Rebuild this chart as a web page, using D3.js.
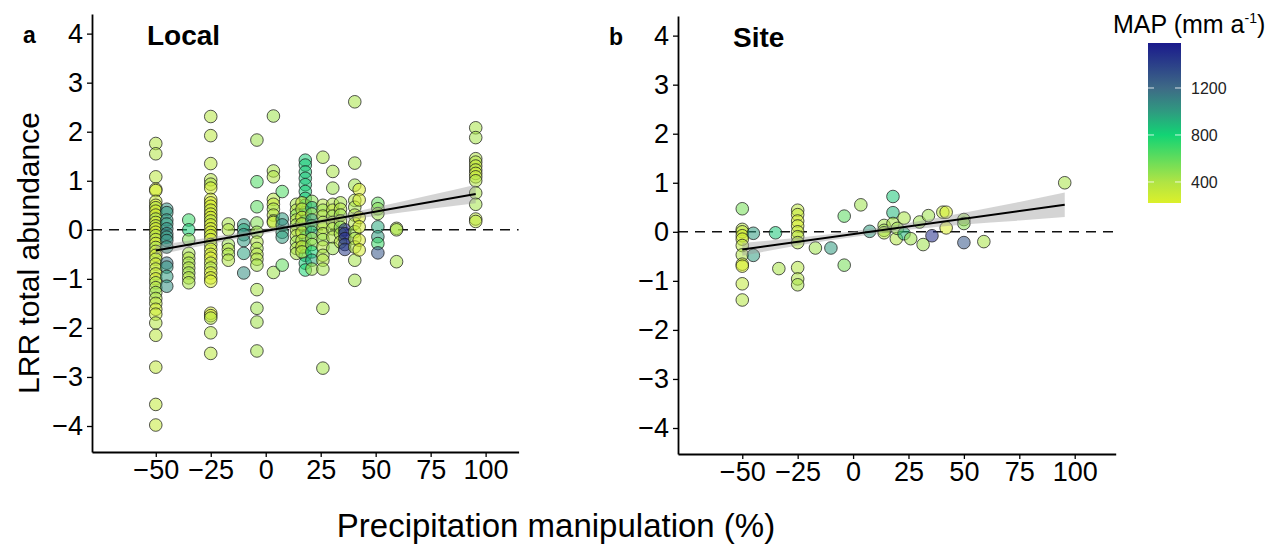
<!DOCTYPE html>
<html>
<head>
<meta charset="utf-8">
<script src="https://cdn.jsdelivr.net/npm/d3@7"></script>
<style>
  body { margin: 0; background: #fff; }
  svg text { font-family: "Liberation Sans", Arial, sans-serif; }
</style>
</head>
<body>
<div id="chart"></div>
<script>
// ---- panel a: local data (precip manipulation %, LRR, MAP mm) ----
const localPrecip = [
  -50,-50,-50,-50,-50,-50,-50,-50,-50,-50,-50,-50,-50,-50,-50,-50,-50,-50,-50,-50,-50,-50,-50,-50,-50,-50,-50,-50,-50,-50,-50,-50,-50,-50,-50,-50,-50,-50,
  -45,-45,-45,-45,-45,-45,-45,-45,-45,-45,-45,-45,-45,
  -35,-35,-35,-35,-35,-35,-35,-35,-35,-35,
  -25,-25,-25,-25,-25,-25,-25,-25,-25,-25,-25,-25,-25,-25,-25,-25,-25,-25,-25,-25,-25,-25,-25,-25,-25,-25,-25,-25,-25,-25,-25,-25,
  -17,-17,-17,-17,-17,-17,
  -10,-10,-10,-10,-10,-10,
  -4,-4,-4,-4,-4,-4,-4,-4,-4,-4,-4,-4,-4,-4,
  3.5,3.5,3.5,3.5,3.5,3.5,3.5,3.5,3.5,3.5,
  7.5,7.5,7.5,7.5,7.5,7.5,
  14,14,14,14,14,14,14,14,14,14,
  18,18,18,18,18,18,18,18,18,18,18,18,18,18,18,18,
  16.5,16.5,16.5,16.5,16.5,16.5,16.5,16.5,
  21,21,21,21,21,21,21,21,21,21,21,
  26,26,26,26,26,26,26,26,26,26,26,26,26,26,
  30.5,30.5,30.5,30.5,30.5,30.5,30.5,30.5,30.5,
  34,34,34,34,34,34,34,
  36,36,36,36,36,
  40.5,40.5,40.5,40.5,40.5,40.5,40.5,40.5,40.5,40.5,40.5,40.5,
  42.5,42.5,42.5,42.5,42.5,42.5,
  51,51,51,51,51,51,51,
  59.5,59.5,59.5,
  95.5,95.5,95.5,95.5,95.5,95.5,95.5,95.5,95.5,95.5,95.5,95.5,95.5
];
const localLRR = [
  1.76,1.55,1.08,0.83,0.80,0.58,0.50,0.45,0.38,0.30,0.22,0.15,0.08,0.02,-0.05,-0.12,-0.20,-0.28,-0.36,-0.44,-0.52,-0.60,-0.70,-0.80,-0.90,-1.00,-1.08,-1.18,-1.28,-1.40,-1.50,-1.62,-1.72,-1.90,-2.15,-2.80,-3.56,-3.98,
  0.42,0.35,0.20,0.12,0.02,-0.08,-0.15,-0.22,-0.35,-0.68,-0.76,-0.95,-1.15,
  0.20,0.00,-0.20,-0.48,-0.58,-0.68,-0.78,-0.88,-0.98,-1.08,
  2.31,1.92,1.35,1.02,0.93,0.85,0.62,0.55,0.48,0.40,0.32,0.25,0.18,0.10,0.02,-0.05,-0.12,-0.20,-0.30,-0.40,-0.50,-0.58,-0.68,-0.78,-0.88,-0.98,-1.05,-1.70,-1.75,-1.80,-2.10,-2.52,
  0.12,0.00,-0.30,-0.40,-0.50,-0.62,
  0.10,0.00,-0.10,-0.22,-0.48,-0.88,
  1.83,0.98,0.47,0.14,-0.05,-0.25,-0.38,-0.50,-0.60,-0.72,-1.22,-1.60,-1.88,-2.47,
  2.32,1.20,1.08,0.62,0.52,0.42,0.30,0.18,0.15,-0.87,
  0.78,0.22,0.10,-0.05,-0.15,-0.72,
  0.52,0.40,0.30,0.20,0.10,0.00,-0.12,-0.25,-0.38,-0.48,
  1.42,1.32,1.18,1.05,0.92,0.78,0.64,0.50,0.35,0.18,0.02,-0.15,-0.35,-0.52,-0.68,-0.82,
  0.55,0.42,0.25,0.12,-0.05,-0.22,-0.35,-0.45,
  0.58,0.45,0.32,0.20,0.08,-0.05,-0.18,-0.30,-0.45,-0.62,-0.80,
  1.48,0.50,0.40,0.28,0.15,0.05,-0.08,-0.20,-0.35,-0.52,-0.62,-0.80,-1.60,-2.82,
  1.19,0.85,0.52,0.40,0.28,0.15,0.02,-0.15,-0.38,
  0.55,0.42,0.30,0.18,0.05,-0.08,-0.25,
  0.00,-0.08,-0.18,-0.30,-0.40,
  2.61,1.36,0.91,0.60,0.46,0.30,0.13,-0.04,-0.18,-0.35,-0.62,-1.03,
  0.82,0.61,0.25,0.06,-0.21,-0.41,
  0.54,0.43,0.33,0.06,-0.14,-0.28,-0.47,
  0.03,0.00,-0.65,
  2.08,1.88,1.45,1.38,1.30,1.22,1.15,1.08,1.00,0.75,0.52,0.22,0.17
];
const localMAP = [
  380,400,360,240,260,300,240,380,250,260,420,240,330,260,250,400,320,250,420,300,240,380,260,350,300,240,420,380,450,400,350,260,300,380,360,340,330,320,
  1050,1000,1020,980,1050,1080,1000,1050,1020,1150,1020,1000,1050,
  700,820,520,420,380,430,400,450,380,420,
  380,360,350,380,400,260,240,230,250,300,240,260,350,240,250,260,300,240,380,250,260,230,350,380,240,260,250,240,230,400,380,360,
  420,400,450,380,420,400,
  1000,950,1050,1000,980,1050,
  450,650,620,520,450,400,420,380,400,430,420,450,440,430,
  450,420,400,380,300,420,350,400,300,450,
  650,1000,1050,950,1000,600,
  420,380,500,350,450,400,380,450,400,420,
  820,850,830,860,840,820,850,800,830,860,820,850,840,800,830,780,
  300,350,280,400,320,350,300,380,
  500,900,450,1000,600,950,450,500,800,950,450,
  420,380,450,400,420,380,400,450,380,420,400,430,420,430,
  420,450,400,350,450,380,420,400,450,
  420,380,450,400,500,420,380,
  1520,1500,1480,1450,1420,
  420,430,450,400,420,380,400,450,420,400,430,440,
  230,240,230,250,230,240,
  600,500,450,950,1000,700,1300,
  400,420,420,
  420,430,400,380,300,350,280,320,400,420,430,350,330
];

// ---- panel b: site data ----
const sitePrecip = [
  -50,-50,-50,-50,-50,-50,-50,-50,-50,-50,-50,
  -45,-45,-35,-33.5,
  -25,-25,-25,-25,-25,-25,-25,-25,-25,-25,
  -17,-10,-4,-4,3.5,7.5,
  14,14,14,18,18,18,19.5,20,23,23,26,30,31.6,34,35.6,
  40.5,42,42,50,50,50,59,95.5
];
const siteLRR = [
  0.47,0.05,0.00,-0.08,-0.15,-0.28,-0.47,-0.66,-0.70,-1.06,-1.39,
  -0.03,-0.48,-0.02,-0.75,
  0.44,0.35,0.22,0.12,0.00,-0.10,-0.22,-0.73,-0.96,-1.08,
  -0.33,-0.33,0.32,-0.68,0.55,0.01,
  0.13,0.03,-0.02,0.72,0.39,0.17,-0.14,0.07,0.28,-0.04,-0.14,0.20,-0.26,0.33,-0.08,
  0.40,0.40,0.08,0.25,0.17,-0.22,-0.20,1.00
];
const siteMAP = [
  550,380,300,250,280,350,400,260,240,330,380,
  1000,1000,850,420,
  350,300,250,260,300,350,400,380,400,420,
  450,1000,620,550,450,1000,
  420,450,380,850,900,420,400,450,420,900,450,450,450,450,1500,
  350,240,230,450,500,1300,420,420
];

// ---- fitted lines and confidence bands ----
const fitX = [-50, 95.5];
const fitLocal = [-0.42, 0.73];
const fitSite = [-0.36, 0.55];
const bandX = [-50, -25, 0, 25, 50, 75, 95.5];
const bandLocalLo = [-0.52, -0.29, -0.075, 0.12, 0.28, 0.43, 0.54];
const bandLocalHi = [-0.32, -0.15, 0.025, 0.22, 0.46, 0.71, 0.92];
const bandSiteLo = [-0.49, -0.28, -0.107, 0.04, 0.15, 0.23, 0.30];
const bandSiteHi = [-0.23, -0.12, 0.013, 0.18, 0.39, 0.61, 0.80];

// ---- scales / ticks ----
const xTicks = [-50, -25, 0, 25, 50, 75, 100];
const yTicks = [-4, -3, -2, -1, 0, 1, 2, 3, 4];
const mapTicks = [400, 800, 1200];
const mapStops = [221, 400, 800, 1000, 1200, 1583];
const mapColors = ["#dcf02a", "#b0e444", "#12d474", "#2f9a80", "#3e6a86", "#1a1a8c"];

const width = 1281, height = 547;
const svg = d3.select("#chart").append("svg")
    .attr("width", width)
    .attr("height", height);

const color = d3.scaleLinear().domain(mapStops).range(mapColors);

function drawPanel(cfg) {
    const x = d3.scaleLinear().domain([-79, cfg.xMax]).range([cfg.left, cfg.right]);
    const y = d3.scaleLinear().domain([-4.53, 4.4]).range([cfg.bottom, cfg.top]);
    const g = svg.append("g");

    // zero line
    g.append("line")
        .attr("x1", x.range()[0]).attr("x2", x.range()[1])
        .attr("y1", y(0)).attr("y2", y(0))
        .attr("stroke", "#111").attr("stroke-width", 1.6)
        .attr("stroke-dasharray", "10,7");

    // points
    g.append("g")
        .selectAll("circle")
        .data(cfg.px.map((d, i) => ({ x: d, y: cfg.py[i], m: cfg.pm[i] })))
        .join("circle")
        .attr("cx", d => x(d.x))
        .attr("cy", d => y(d.y))
        .attr("r", 6.3)
        .attr("fill", d => color(d.m))
        .attr("fill-opacity", 0.55)
        .attr("stroke", "#1e1e1e")
        .attr("stroke-opacity", 0.75)
        .attr("stroke-width", 1);

    // confidence band
    const band = d3.area()
        .x((d, i) => x(bandX[i]))
        .y0((d, i) => y(cfg.lo[i]))
        .y1((d, i) => y(cfg.hi[i]))
        .curve(d3.curveMonotoneX);
    g.append("path")
        .attr("d", band(bandX))
        .attr("fill", "#999")
        .attr("fill-opacity", 0.42);

    // fitted line
    g.append("line")
        .attr("x1", x(fitX[0])).attr("x2", x(fitX[1]))
        .attr("y1", y(cfg.fit[0])).attr("y2", y(cfg.fit[1]))
        .attr("stroke", "#000").attr("stroke-width", 2);

    // axes
    const ax = g.append("g")
        .attr("transform", `translate(0,${cfg.bottom})`)
        .call(d3.axisBottom(x).tickValues(xTicks).tickSize(5).tickSizeOuter(0).tickPadding(3));
    const ay = g.append("g")
        .attr("transform", `translate(${cfg.left},0)`)
        .call(d3.axisLeft(y).tickValues(yTicks).tickSize(5).tickSizeOuter(0).tickPadding(4));
    [ax, ay].forEach(a => {
        a.select(".domain").attr("stroke", "#000").attr("stroke-width", 1.8);
        a.selectAll(".tick line").attr("stroke", "#000").attr("stroke-width", 1.3);
        a.selectAll("text").attr("fill", "#000").style("font-size", "27px");
    });

    // panel labels
    g.append("text").attr("x", cfg.letterX).attr("y", cfg.top + 29)
        .style("font-size", "23px").style("font-weight", "bold").text(cfg.letter);
    g.append("text").attr("x", cfg.titleX).attr("y", cfg.top + 31)
        .style("font-size", "28px").style("font-weight", "bold").text(cfg.title);
}

drawPanel({
    left: 92, right: 518.6, top: 14, bottom: 452, xMax: 115,
    px: localPrecip, py: localLRR, pm: localMAP,
    fit: fitLocal, lo: bandLocalLo, hi: bandLocalHi,
    letter: "a", letterX: 23, title: "Local", titleX: 147
});
drawPanel({
    left: 678, right: 1115.7, top: 16, bottom: 454, xMax: 118.5,
    px: sitePrecip, py: siteLRR, pm: siteMAP,
    fit: fitSite, lo: bandSiteLo, hi: bandSiteHi,
    letter: "b", letterX: 609, title: "Site", titleX: 733
});

// axis titles
svg.append("text")
    .attr("transform", "translate(39,253) rotate(-90)")
    .attr("text-anchor", "middle")
    .style("font-size", "30px")
    .text("LRR total abundance");
svg.append("text")
    .attr("x", 556).attr("y", 537)
    .attr("text-anchor", "middle")
    .style("font-size", "33px")
    .text("Precipitation manipulation (%)");

// colour bar legend
const barTop = 43, barBottom = 203, barLeft = 1148, barW = 33;
const legY = d3.scaleLinear().domain([mapStops[0], mapStops[mapStops.length - 1]]).range([barBottom, barTop]);
const defs = svg.append("defs");
const grad = defs.append("linearGradient").attr("id", "mapgrad")
    .attr("x1", 0).attr("y1", 1).attr("x2", 0).attr("y2", 0);
mapStops.forEach((v, i) => {
    grad.append("stop")
        .attr("offset", (v - mapStops[0]) / (mapStops[mapStops.length - 1] - mapStops[0]))
        .attr("stop-color", mapColors[i]);
});
svg.append("rect")
    .attr("x", barLeft).attr("y", barTop)
    .attr("width", barW).attr("height", barBottom - barTop)
    .attr("fill", "url(#mapgrad)");
const legTicks = svg.append("g");
mapTicks.forEach(v => {
    legTicks.append("line").attr("x1", barLeft).attr("x2", barLeft + 6)
        .attr("y1", legY(v)).attr("y2", legY(v)).attr("stroke", "#fff").attr("stroke-opacity", 0.8);
    legTicks.append("line").attr("x1", barLeft + barW - 6).attr("x2", barLeft + barW)
        .attr("y1", legY(v)).attr("y2", legY(v)).attr("stroke", "#fff").attr("stroke-opacity", 0.8);
    legTicks.append("text").attr("x", barLeft + barW + 10).attr("y", legY(v))
        .attr("dy", "0.35em").style("font-size", "16px").attr("fill", "#222").text(v);
});
const legTitle = svg.append("text").attr("x", 1113).attr("y", 33).style("font-size", "25px");
legTitle.append("tspan").text("MAP (mm a");
legTitle.append("tspan").attr("dy", -10).style("font-size", "14px").text("-1");
legTitle.append("tspan").attr("dy", 10).text(")");
</script>
</body>
</html>
